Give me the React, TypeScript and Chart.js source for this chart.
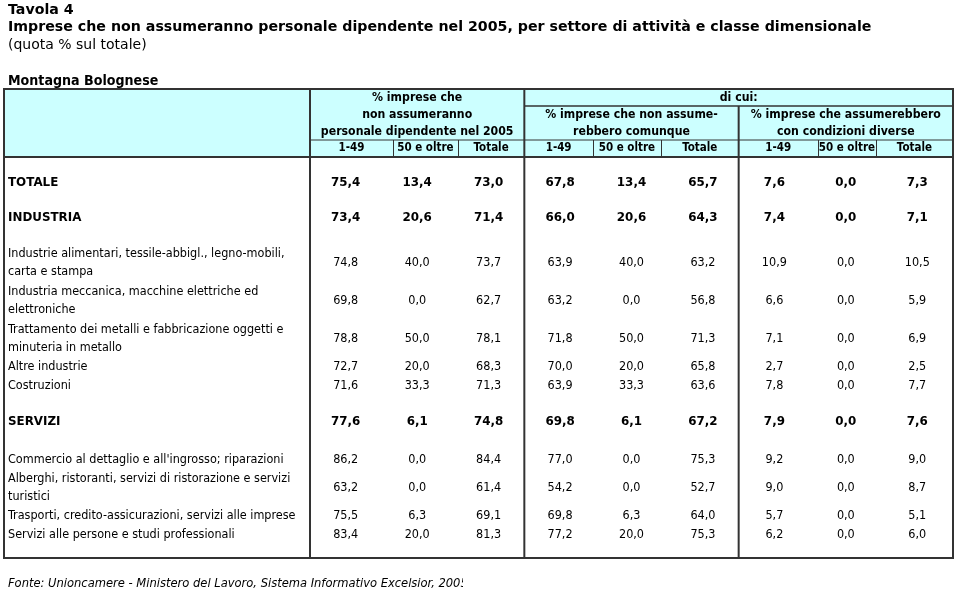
import React, { useEffect, useRef } from 'react';
import { Chart, registerables } from 'chart.js';

Chart.register(...registerables);

// ---------- texts ----------
const TITLE = 'Tavola 4';
const SUBTITLE =
  'Imprese che non assumeranno personale dipendente nel 2005, per settore di attività e classe dimensionale';
const NOTE = '(quota % sul totale)';
const AREA = 'Montagna Bolognese';
const SOURCE = 'Fonte: Unioncamere - Ministero del Lavoro, Sistema Informativo Excelsior, 2005';

const groupHeaders: string[][] = [
  ['% imprese che', 'non assumeranno', 'personale dipendente nel 2005'],
  ['% imprese che non assume-', 'rebbero comunque'],
  ['% imprese che assumerebbero', 'con condizioni diverse'],
];
const DI_CUI = 'di cui:';
const subColumns = ['1-49', '50 e oltre', 'Totale'];

// ---------- rows ----------
const rowLabels: string[][] = [
  ['TOTALE'],
  ['INDUSTRIA'],
  ['Industrie alimentari, tessile-abbigl., legno-mobili,', 'carta e stampa'],
  ['Industria meccanica, macchine elettriche ed', 'elettroniche'],
  ['Trattamento dei metalli e fabbricazione oggetti e', 'minuteria in metallo'],
  ['Altre industrie'],
  ['Costruzioni'],
  ['SERVIZI'],
  ["Commercio al dettaglio e all'ingrosso; riparazioni"],
  ['Alberghi, ristoranti, servizi di ristorazione e servizi', 'turistici'],
  ['Trasporti, credito-assicurazioni, servizi alle imprese'],
  ['Servizi alle persone e studi professionali'],
];
const boldRows = [true, true, false, false, false, false, false, true, false, false, false, false];

// ---------- values (one array per column) ----------
const nonAssumeranno_1_49 = [75.4, 73.4, 74.8, 69.8, 78.8, 72.7, 71.6, 77.6, 86.2, 63.2, 75.5, 83.4];
const nonAssumeranno_50 = [13.4, 20.6, 40.0, 0.0, 50.0, 20.0, 33.3, 6.1, 0.0, 0.0, 6.3, 20.0];
const nonAssumeranno_tot = [73.0, 71.4, 73.7, 62.7, 78.1, 68.3, 71.3, 74.8, 84.4, 61.4, 69.1, 81.3];
const comunque_1_49 = [67.8, 66.0, 63.9, 63.2, 71.8, 70.0, 63.9, 69.8, 77.0, 54.2, 69.8, 77.2];
const comunque_50 = [13.4, 20.6, 40.0, 0.0, 50.0, 20.0, 33.3, 6.1, 0.0, 0.0, 6.3, 20.0];
const comunque_tot = [65.7, 64.3, 63.2, 56.8, 71.3, 65.8, 63.6, 67.2, 75.3, 52.7, 64.0, 75.3];
const diverse_1_49 = [7.6, 7.4, 10.9, 6.6, 7.1, 2.7, 7.8, 7.9, 9.2, 9.0, 5.7, 6.2];
const diverse_50 = [0.0, 0.0, 0.0, 0.0, 0.0, 0.0, 0.0, 0.0, 0.0, 0.0, 0.0, 0.0];
const diverse_tot = [7.3, 7.1, 10.5, 5.9, 6.9, 2.5, 7.7, 7.6, 9.0, 8.7, 5.1, 6.0];

const columns = [
  nonAssumeranno_1_49, nonAssumeranno_50, nonAssumeranno_tot,
  comunque_1_49, comunque_50, comunque_tot,
  diverse_1_49, diverse_50, diverse_tot,
];

// ---------- layout (row heights in line units) ----------
const rowSpans = [1, 1, 2, 2, 2, 1, 1, 1, 1, 2, 1, 1];
const gapBefore = [0.87, 0.84, 0.87, 0, 0, 0, 0, 0.92, 0.95, 0, 0, 0];
const gapAfter = 0.71;
const headerSplits = [0.66, 1.57, 3.46, 4.41, 6.61, 7.42];

const rowCenters: number[] = [];
let acc = 0;
rowSpans.forEach((s, i) => {
  acc += gapBefore[i];
  rowCenters.push(acc + s / 2);
  acc += s;
});
const totalUnits = acc + gapAfter;

const COND = '"DejaVu Sans Condensed", "DejaVu Sans", sans-serif';
const WIDE = '"DejaVu Sans", sans-serif';
const f = (size: number, bold = false, italic = false, family = COND) =>
  `${italic ? 'italic ' : ''}${bold ? 'bold ' : ''}${size}px ${family}`;

const fmt = (v: number) => v.toFixed(1).replace('.', ',');

const LINE = '#333333';
const HEADER_BG = '#ccffff';

function hLine(ctx: CanvasRenderingContext2D, x1: number, x2: number, y: number, w: number) {
  ctx.save();
  ctx.strokeStyle = LINE;
  ctx.lineWidth = w;
  ctx.beginPath();
  ctx.moveTo(x1, y);
  ctx.lineTo(x2, y);
  ctx.stroke();
  ctx.restore();
}
function vLine(ctx: CanvasRenderingContext2D, x: number, y1: number, y2: number, w: number) {
  ctx.save();
  ctx.strokeStyle = LINE;
  ctx.lineWidth = w;
  ctx.beginPath();
  ctx.moveTo(x, y1);
  ctx.lineTo(x, y2);
  ctx.stroke();
  ctx.restore();
}
function text(
  ctx: CanvasRenderingContext2D, s: string, x: number, y: number,
  font: string, align: CanvasTextAlign = 'left',
) {
  ctx.font = font;
  ctx.textAlign = align;
  ctx.textBaseline = 'middle';
  ctx.fillStyle = '#000';
  ctx.fillText(s, x, y);
}

const rowFont = (bold: boolean) => (bold ? f(11.9, true, false, WIDE) : f(12.5));

const tablePlugin = {
  id: 'tablePlugin',
  beforeDraw(chart: any) {
    const ctx = chart.ctx as CanvasRenderingContext2D;
    ctx.save();
    ctx.fillStyle = '#fff';
    ctx.fillRect(0, 0, chart.width, chart.height);
    ctx.restore();
  },
  afterDatasetsDraw(chart: any) {
    const ctx = chart.ctx as CanvasRenderingContext2D;
    const ca = chart.chartArea;
    const xs = chart.scales.x;
    const ys = chart.scales.y;
    ctx.save();

    // titles
    text(ctx, TITLE, 8, 10, f(14.2, true, false, WIDE));
    text(ctx, SUBTITLE, 8, 27, f(14.2, true, false, WIDE));
    text(ctx, NOTE, 8, 45, f(14, false, false, WIDE));
    text(ctx, AREA, 8, 81, f(14.1, true));

    const L = 4;
    const T = 89;
    const R = xs.getPixelForValue(8.5);
    const H = ca.top;
    const B = ca.bottom;
    const xLab = xs.getPixelForValue(-0.5);
    const xg1 = xs.getPixelForValue(2.5);
    const xg2 = xs.getPixelForValue(5.5);
    const yDi = 106;
    const ySub = 140;

    // header background
    ctx.fillStyle = HEADER_BG;
    ctx.fillRect(L, T, R - L, H - T);

    // header texts
    const hf = f(12.2, true);
    const sf = f(11.5, true);
    const r1 = (T + yDi) / 2;
    const r2 = yDi + (ySub - yDi) / 4;
    const r3 = yDi + (3 * (ySub - yDi)) / 4;
    const rs = (ySub + H) / 2;
    const g1c = (xLab + xg1) / 2;
    const g2c = (xg1 + xg2) / 2;
    const g3c = (xg2 + R) / 2;
    text(ctx, groupHeaders[0][0], g1c, r1, hf, 'center');
    text(ctx, groupHeaders[0][1], g1c, r2, hf, 'center');
    text(ctx, groupHeaders[0][2], g1c, r3, hf, 'center');
    text(ctx, DI_CUI, (xg1 + R) / 2, r1, hf, 'center');
    text(ctx, groupHeaders[1][0], g2c, r2, hf, 'center');
    text(ctx, groupHeaders[1][1], g2c, r3, hf, 'center');
    text(ctx, groupHeaders[2][0], g3c, r2, hf, 'center');
    text(ctx, groupHeaders[2][1], g3c, r3, hf, 'center');

    const bounds = [-0.5, headerSplits[0], headerSplits[1], 2.5, headerSplits[2], headerSplits[3], 5.5, headerSplits[4], headerSplits[5], 8.5];
    for (let g = 0; g < 3; g++) {
      for (let k = 0; k < 3; k++) {
        const a = xs.getPixelForValue(bounds[g * 3 + k]);
        const b = xs.getPixelForValue(bounds[g * 3 + k + 1]);
        text(ctx, subColumns[k], (a + b) / 2, rs, sf, 'center');
      }
    }

    // row labels
    rowLabels.forEach((lines, i) => {
      const fnt = rowFont(boldRows[i]);
      if (lines.length === 1) {
        text(ctx, lines[0], 8, ys.getPixelForValue(rowCenters[i]), fnt);
      } else {
        text(ctx, lines[0], 8, ys.getPixelForValue(rowCenters[i] - 0.47), fnt);
        text(ctx, lines[1], 8, ys.getPixelForValue(rowCenters[i] + 0.47), fnt);
      }
    });

    // values, placed at the dataset points
    chart.data.datasets.forEach((ds: any, di: number) => {
      const meta = chart.getDatasetMeta(di);
      meta.data.forEach((pt: any, ri: number) => {
        const v = ds.data[ri].v as number;
        text(ctx, fmt(v), pt.x, pt.y, rowFont(boldRows[ri]), 'center');
      });
    });

    // lines
    hLine(ctx, xg1, R, yDi, 1.5);
    hLine(ctx, xLab, R, ySub, 1);
    for (const s of headerSplits) {
      const px = Math.round(xs.getPixelForValue(s)) + 0.5;
      vLine(ctx, px, ySub, H, 1);
    }
    hLine(ctx, L, R, H, 2);
    vLine(ctx, xLab, T, B, 2);
    vLine(ctx, xg1, T, B, 2);
    vLine(ctx, xg2, yDi, B, 2);
    ctx.strokeStyle = LINE;
    ctx.lineWidth = 2;
    ctx.strokeRect(L, T, R - L, B - T);

    // source note, clipped like the original
    ctx.save();
    ctx.beginPath();
    ctx.rect(0, B + 4, 463, chart.height - B - 4);
    ctx.clip();
    text(ctx, SOURCE, 8, 584, f(12.8, false, true));
    ctx.restore();

    ctx.restore();
  },
};

export default function App() {
  const ref = useRef<HTMLCanvasElement | null>(null);
  useEffect(() => {
    if (!ref.current) return;
    const datasets = columns.map((col, ci) => ({
      label: `c${ci}`,
      data: col.map((v, ri) => ({ x: ci, y: rowCenters[ri], v })),
      pointRadius: 0,
      showLine: false,
    }));
    const chart = new Chart(ref.current, {
      type: 'scatter',
      data: { datasets },
      options: {
        responsive: false,
        animation: false,
        events: [],
        layout: { padding: { left: 310, right: 7, top: 157, bottom: 37 } },
        plugins: { legend: { display: false }, tooltip: { enabled: false } },
        scales: {
          x: { type: 'linear', min: -0.5, max: 8.5, display: false },
          y: { type: 'linear', min: 0, max: totalUnits, reverse: true, display: false },
        },
      },
      plugins: [tablePlugin],
    } as any);
    return () => chart.destroy();
  }, []);
  return (
    <div style={{ position: 'fixed', left: 0, top: 0, width: 960, height: 595, background: '#fff' }}>
      <canvas ref={ref} width={960} height={595} style={{ width: 960, height: 595, display: 'block' }} />
    </div>
  );
}
